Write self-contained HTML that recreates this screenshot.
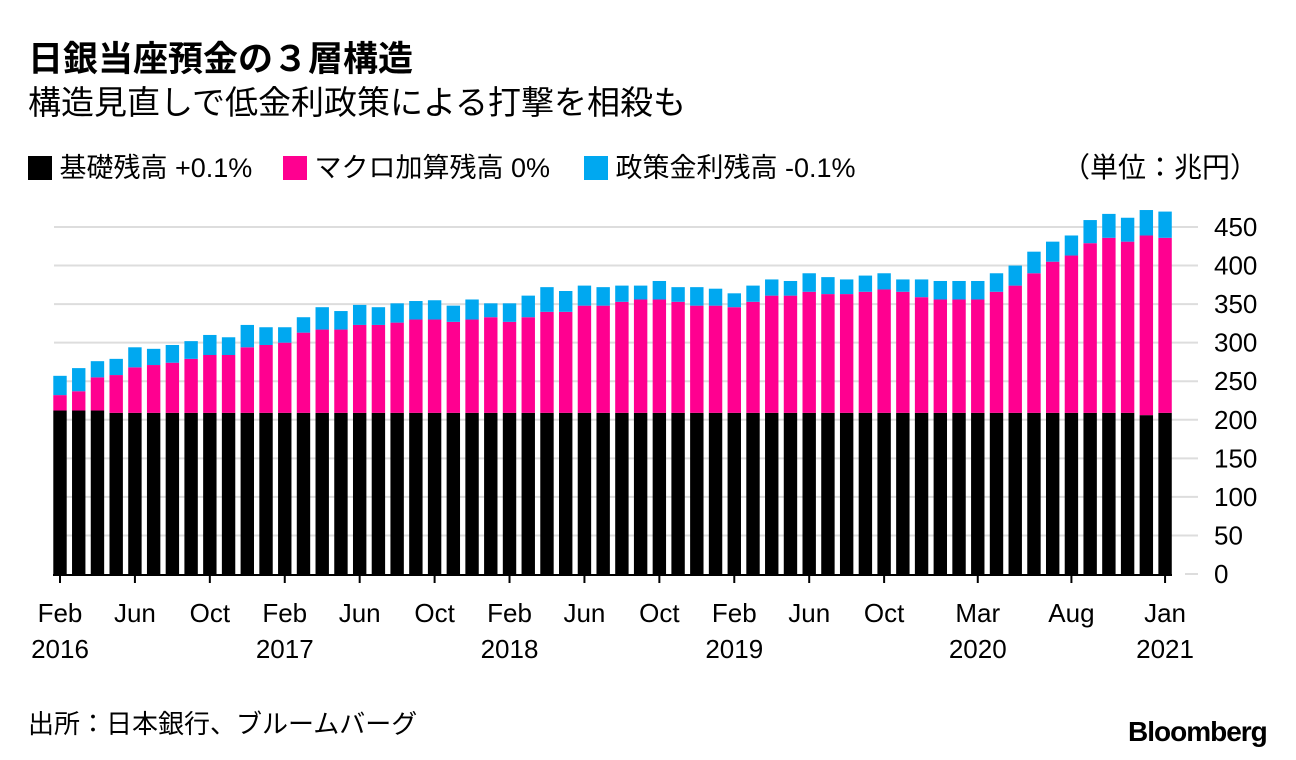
<!DOCTYPE html>
<html><head><meta charset="utf-8"><style>
body{margin:0;background:#fff;width:1296px;height:760px;overflow:hidden;font-family:"Liberation Sans","Noto Sans CJK JP",sans-serif;}
.t{position:absolute;white-space:nowrap;color:#000}
</style></head><body>
<div class="t" style="left:28px;top:38px;font-size:35px;font-weight:bold;line-height:44px">日銀当座預金の３層構造</div>
<div class="t" style="left:28px;top:82px;font-size:33px;line-height:42px">構造見直しで低金利政策による打撃を相殺も</div>
<div style="position:absolute;left:28px;top:146px;font-size:27px;height:34px">
 <span style="position:absolute;left:0;top:0;white-space:nowrap"><span style="display:inline-block;width:24px;height:24px;background:#000;vertical-align:-3px"></span> 基礎残高 +0.1%</span>
 <span style="position:absolute;left:255px;top:0;white-space:nowrap"><span style="display:inline-block;width:24px;height:24px;background:#ff0090;vertical-align:-3px"></span> マクロ加算残高 0%</span>
 <span style="position:absolute;left:556px;top:0;white-space:nowrap"><span style="display:inline-block;width:24px;height:24px;background:#00a8f0;vertical-align:-3px"></span> 政策金利残高 -0.1%</span>
</div>
<div class="t" style="left:1062px;top:146px;font-size:28px">（単位：兆円）</div>
<svg id="chart" width="1296" height="760" style="position:absolute;left:0;top:0"></svg>
<div class="t" style="left:28px;top:704px;font-size:26px">出所：日本銀行、ブルームバーグ</div>
<div class="t" style="left:1128px;top:716px;font-size:28px;font-weight:bold;letter-spacing:-1px">Bloomberg</div>
<script>
const totals=[257,267,276,279,294,292,297,302,310,307,323,320,320,333,346,341,349,346,351,354,355,348,356,351,351,361,372,367,374,372,374,374,380,372,372,370,364,374,382,380,390,385,382,387,390,382,382,380,380,380,390,400,418,431,439,459,467,462,472,470];
const macroTops=[232,237,255,258,268,271,274,279,284,284,294,297,300,313,317,317,323,323,326,330,330,327,330,333,327,333,340,340,348,348,353,356,356,353,348,348,346,353,361,361,366,363,363,366,369,366,359,356,356,356,366,374,390,405,413,429,436,431,439,436];
const basic=[212,212,212,209,209,209,209,209,209,209,209,209,209,209,209,209,209,209,209,209,209,209,209,209,209,209,209,209,209,209,209,209,209,209,209,209,209,209,209,209,209,209,209,209,209,209,209,209,209,209,209,209,209,209,209,209,209,209,206,209];
const yTicks=[0,50,100,150,200,250,300,350,400,450];
const xTickIdx=[0,4,8,12,16,20,24,28,32,36,40,44,49,54,59];
const xTickLabels=[["Feb","2016"],["Jun",""],["Oct",""],["Feb","2017"],["Jun",""],["Oct",""],["Feb","2018"],["Jun",""],["Oct",""],["Feb","2019"],["Jun",""],["Oct",""],["Mar","2020"],["Aug",""],["Jan","2021"]];
const svg=document.getElementById('chart');const NS='http://www.w3.org/2000/svg';
const y0=574,ppu=347/450,x0=60,step=18.73,bw=13.4;
const Y=v=>y0-v*ppu, X=i=>x0+i*step;
function mk(tag,at){const e=document.createElementNS(NS,tag);for(const k in at)e.setAttribute(k,at[k]);svg.appendChild(e);return e;}
yTicks.forEach(v=>{
 const l=mk('line',{x1:v===0?1185:54,x2:1198,y1:Y(v),y2:Y(v),stroke:'#ddd','stroke-width':2});
 
 
 const t=mk('text',{x:1214,y:Y(v)+9,'font-size':26,fill:'#000','font-family':'Liberation Sans, sans-serif'});t.textContent=v;
 
 
});
totals.forEach((tv,i)=>{
 const x=X(i)-bw/2;
 const b=mk('rect',{x:x,y:Y(basic[i]),width:bw,height:Y(0)-Y(basic[i]),fill:'#000'});
 
 
 const m=mk('rect',{x:x,y:Y(macroTops[i]),width:bw,height:Y(basic[i])-Y(macroTops[i]),fill:'#ff0090'});
 
 
 const p=mk('rect',{x:x,y:Y(tv),width:bw,height:Y(macroTops[i])-Y(tv),fill:'#00a8f0'});
 
 
});
const ax=mk('line',{x1:53,x2:1172,y1:575,y2:575,stroke:'#000','stroke-width':2});


xTickIdx.forEach((idx,k)=>{
 const tk=mk('line',{x1:X(idx),x2:X(idx),y1:575,y2:583,stroke:'#000','stroke-width':2});
 
 
 const lab=xTickLabels[k];
 const t=mk('text',{x:X(idx),y:622,'font-size':26,'text-anchor':'middle',fill:'#000','font-family':'Liberation Sans, sans-serif'});t.textContent=lab[0];
 
 
 if(lab[1]){const t2=mk('text',{x:X(idx),y:658,'font-size':26,'text-anchor':'middle',fill:'#000','font-family':'Liberation Sans, sans-serif'});t2.textContent=lab[1];
 
 }
});
</script>
</body></html>
